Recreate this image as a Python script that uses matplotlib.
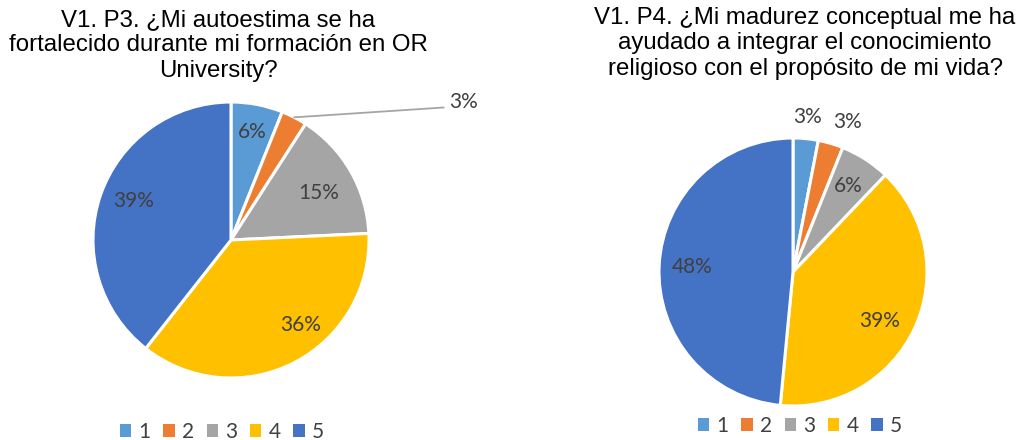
import numpy as np
import matplotlib
matplotlib.use("Agg")
import matplotlib.pyplot as plt
from matplotlib.patches import Patch

# survey answers (percent), categories 1..5
categories = ["1", "2", "3", "4", "5"]
p3_values = [6, 3, 15, 36, 39]
p4_values = [3, 3, 6, 39, 48]
p3_title = "V1. P3. ¿Mi autoestima se ha\nfortalecido durante mi formación en OR\nUniversity?"
p4_title = "V1. P4. ¿Mi madurez conceptual me ha\nayudado a integrar el conocimiento\nreligioso con el propósito de mi vida?"

colors = ["#5B9BD5", "#ED7D31", "#A5A5A5", "#FFC000", "#4472C4"]
label_color = "#404040"
W, H = 1021, 440

fig = plt.figure(figsize=(W / 100, H / 100), dpi=100)


def pie_axes(cx, cy, r):
    ax = fig.add_axes([(cx - r) / W, (H - cy - r) / H, 2 * r / W, 2 * r / H])
    return ax


def draw_pie(ax, values, dists, shifts):
    # dists/shifts: label radius and angle nudge (deg) like excel's best fit
    wedges, _ = ax.pie(values, colors=colors, startangle=90, counterclock=False,
                       radius=1.0, wedgeprops=dict(edgecolor="white", linewidth=2.2))
    ax.set_xlim(-1, 1)
    ax.set_ylim(-1, 1)
    ax.axis("off")
    mids = []
    for w, d, s, v in zip(wedges, dists, shifts, values):
        mid = np.deg2rad((w.theta1 + w.theta2) / 2)
        mids.append(mid)
        if d is None:
            continue
        t = mid + np.deg2rad(s)
        ax.text(d * np.cos(t), d * np.sin(t), f"{v}%", ha="center", va="center",
                fontsize=15, color=label_color, family="Lato", clip_on=False)
    return wedges, mids


# left chart
ax1 = pie_axes(231, 240, 138)
w1, m1 = draw_pie(ax1, p3_values, [0.80, None, 0.72, 0.80, 0.76], [0, 0, -2, 12, -3])
a = m1[1]
ax1.plot([np.cos(a), 1.54], [np.sin(a), 0.96], color="#A5A5A5", lw=1.3, clip_on=False)
ax1.text(1.58, 1.0, f"{p3_values[1]}%", ha="left", va="center", fontsize=15,
         color=label_color, family="Lato", clip_on=False)
fig.text(218 / W, 1 - 9 / H, p3_title, ha="center", va="top", fontsize=17.3,
         family="Liberation Sans", linespacing=1.2)

# right chart
ax2 = pie_axes(793, 272, 134)
draw_pie(ax2, p4_values, [1.16, 1.19, 0.76, 0.74, 0.75], [0, -3.5, 0, -5, 0])
fig.text(805 / W, 1 - 7 / H, p4_title, ha="center", va="top", fontsize=17.3,
         family="Liberation Sans", linespacing=1.2)

handles = [Patch(facecolor=c, edgecolor="none") for c in colors]
for x, y in [(222, 432), (800, 426)]:
    fig.legend(handles, categories, loc="center", bbox_to_anchor=(x / W, 1 - y / H),
               ncol=5, frameon=False, handlelength=0.55, handleheight=0.55,
               handletextpad=0.35, columnspacing=0.6,
               prop={"family": "Lato", "size": 15}, labelcolor=label_color)

fig.savefig("out.png", dpi=100)
